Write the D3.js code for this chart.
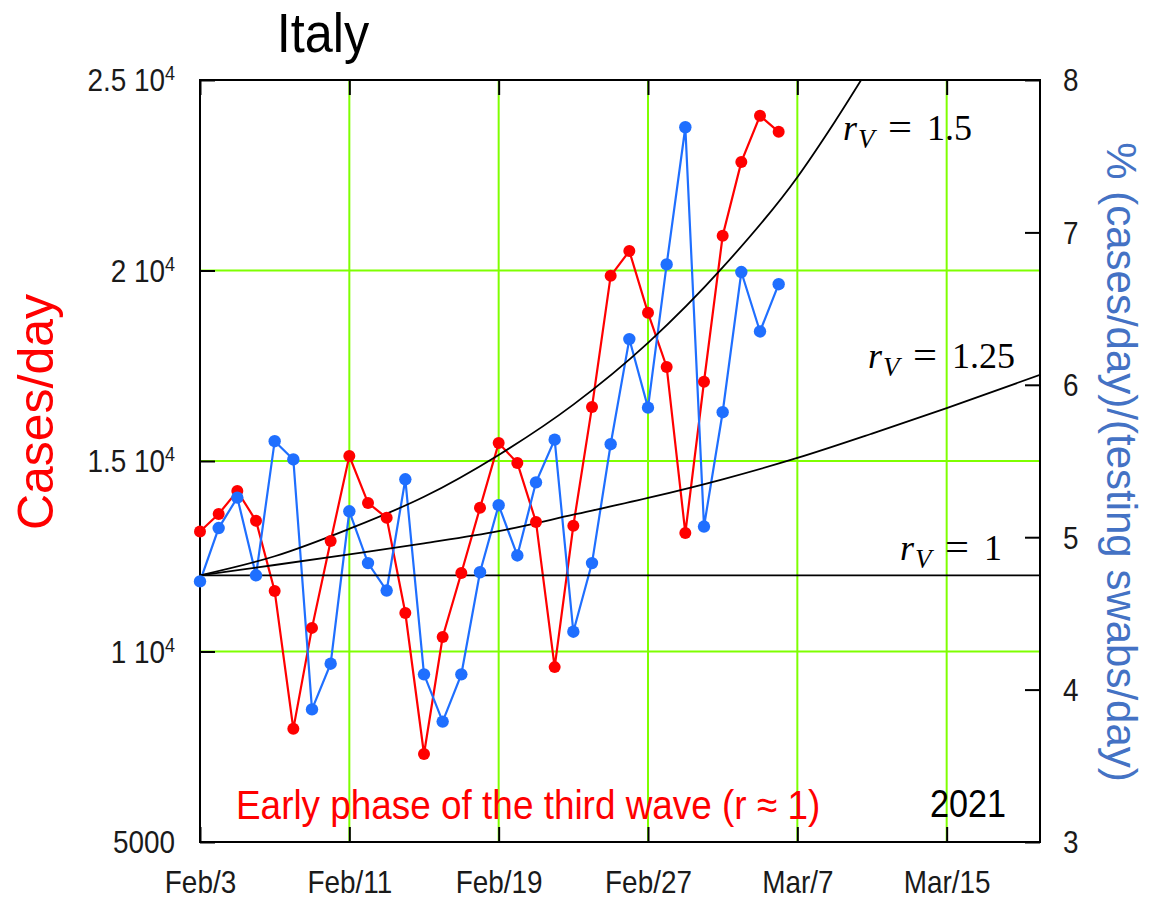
<!DOCTYPE html>
<html>
<head>
<meta charset="utf-8">
<script src="https://cdn.jsdelivr.net/npm/d3@7"></script>
<style>
  html, body { margin: 0; padding: 0; background: #fff; }
  svg { display: block; font-family: "Liberation Sans", Arial, sans-serif; }
</style>
</head>
<body>
<svg id="chart" width="1160" height="901"></svg>
<script>
// ---- data ---------------------------------------------------------------
const firstDay = "2021-02-03";          // first observation
const lastAxisDay = "2021-03-20";       // right end of the time axis

// Daily new cases, Italy, from Feb 3 to Mar 6 2021
const cases = [13150, 13610, 14210, 13430, 11590, 7970, 10620, 12900, 15130, 13900,
               13510, 11010, 7310, 10380, 12060, 13770, 15470, 14950, 13400, 9590,
               13300, 16420, 19860, 20510, 18890, 17470, 13110, 17080, 20910, 22850,
               24060, 23640];

// Positivity: % of cases per testing swabs, same days
const positivity = [4.71, 5.06, 5.26, 4.75, 5.63, 5.51, 3.87, 4.17, 5.17, 4.83,
                    4.65, 5.38, 4.10, 3.79, 4.10, 4.77, 5.21, 4.88, 5.36, 5.64,
                    4.38, 4.83, 5.61, 6.30, 5.85, 6.79, 7.69, 5.07, 5.82, 6.74,
                    6.35, 6.66];

// Reference growth curves (cases/day) for several r_V values, sampled by day offset
const rv150Days   = [0, 4, 8, 12, 16, 20, 24, 28, 32, 34, 36];
const rv150Values = [12000, 12500, 13220, 14060, 15160, 16480, 18100, 20080, 22450, 23900, 25460];
const rv125Days   = [0, 4, 8, 12, 16, 20, 24, 28, 32, 36, 40, 45];
const rv125Values = [12000, 12270, 12550, 12840, 13160, 13590, 14030, 14520, 15080, 15720, 16390, 17260];
const rv100Days   = [0, 45];
const rv100Values = [12000, 12000];

// Axis ticks
const xTickDays = ["2021-02-03", "2021-02-11", "2021-02-19", "2021-02-27", "2021-03-07", "2021-03-15"];
const xGridDays = ["2021-02-11", "2021-02-19", "2021-02-27", "2021-03-07", "2021-03-15"];
const leftTicks = [5000, 10000, 15000, 20000, 25000];
const leftTickMantissa = ["5000", "1 10", "1.5 10", "2 10", "2.5 10"];
const leftTickExponent = ["", "4", "4", "4", "4"];
const leftGrid = [10000, 15000, 20000];
const rightTicks = [3, 4, 5, 6, 7, 8];

// ---- layout -------------------------------------------------------------
const L = 200, R = 1040, T = 80, B = 842;
const SX = 0.9;   // horizontal squeeze of the sans-serif labels
const svg = d3.select("#chart");
const parse = d3.utcParse("%Y-%m-%d");
const day0 = parse(firstDay);

const x = d3.scaleUtc().domain([day0, parse(lastAxisDay)]).range([L, R]);
const yL = d3.scaleLinear().domain([5000, 25000]).range([B, T]);
const yR = d3.scaleLinear().domain([3, 8]).range([B, T]);
const dayAt = k => d3.utcDay.offset(day0, k);

const RED = "#ff0000", BLUE = "#1f6fff", GRID = "#7fff00";

// ---- grid -------------------------------------------------------------
const grid = svg.append("g");
grid.selectAll("line.h").data(leftGrid).join("line")
  .attr("x1", L).attr("x2", R)
  .attr("y1", d => yL(d)).attr("y2", d => yL(d))
  .attr("stroke", GRID).attr("stroke-width", 2);
grid.selectAll("line.v").data(xGridDays.map(parse)).join("line")
  .attr("x1", d => x(d)).attr("x2", d => x(d))
  .attr("y1", T).attr("y2", B)
  .attr("stroke", GRID).attr("stroke-width", 2);

// ---- axes (inward ticks) ------------------------------------------------
function styleAxis(g) {
  g.select(".domain").remove();
  g.selectAll(".tick line").attr("stroke", "#000").attr("stroke-width", 2);
  g.selectAll(".tick text").attr("fill", "#1a1a1a").style("font-size", "31px")
    .style("font-family", '"Liberation Sans", Arial, sans-serif');
}

const leftAxis = svg.append("g").attr("transform", `translate(${L},0)`)
  .call(d3.axisLeft(yL).tickValues(leftTicks).tickSizeInner(-15).tickSizeOuter(0).tickPadding(0));
styleAxis(leftAxis);
leftAxis.selectAll(".tick text").each(function(d, i) {
  const t = d3.select(this);
  t.text(null).attr("x", -25 / SX).attr("dy", "0.35em")
    .attr("text-anchor", "end").attr("transform", `scale(${SX},1)`);
  t.append("tspan").text(leftTickMantissa[i]);
  if (leftTickExponent[i]) {
    t.append("tspan").attr("dy", "-0.55em").style("font-size", "20px").text(leftTickExponent[i]);
  }
});

const bottomAxis = svg.append("g").attr("transform", `translate(0,${B})`)
  .call(d3.axisBottom(x).tickValues(xTickDays.map(parse)).tickSizeInner(-15).tickSizeOuter(0)
        .tickFormat(d3.utcFormat("%b/%-d")));
styleAxis(bottomAxis);
bottomAxis.selectAll(".tick text").attr("y", 51).attr("dy", null)
  .attr("transform", `scale(${SX},1)`);

const topAxis = svg.append("g").attr("transform", `translate(0,${T})`)
  .call(d3.axisTop(x).tickValues(xTickDays.map(parse)).tickSizeInner(-15).tickSizeOuter(0).tickFormat(""));
styleAxis(topAxis);

const rightAxis = svg.append("g").attr("transform", `translate(${R},0)`)
  .call(d3.axisRight(yR).tickValues(rightTicks).tickSizeInner(-15).tickSizeOuter(0).tickPadding(0)
        .tickFormat(d3.format("d")));
styleAxis(rightAxis);
rightAxis.selectAll(".tick text").attr("x", 23 / SX).attr("dy", "0.35em")
  .attr("transform", `scale(${SX},1)`);

// ---- plot frame ---------------------------------------------------------
svg.append("rect").attr("x", L).attr("y", T).attr("width", R - L).attr("height", B - T)
  .attr("fill", "none").attr("stroke", "#000").attr("stroke-width", 2);

// ---- data lines ---------------------------------------------------------
svg.append("clipPath").attr("id", "plotClip")
  .append("rect").attr("x", L).attr("y", T).attr("width", R - L).attr("height", B - T);

const caseLine = d3.line().x((d, i) => x(dayAt(i))).y(d => yL(d));
const posLine = d3.line().x((d, i) => x(dayAt(i))).y(d => yR(d));

svg.append("path").datum(cases).attr("d", caseLine)
  .attr("fill", "none").attr("stroke", RED).attr("stroke-width", 2.2);
svg.append("path").datum(positivity).attr("d", posLine)
  .attr("fill", "none").attr("stroke", BLUE).attr("stroke-width", 2.2);

// reference curves
const curves = [
  { days: rv100Days, values: rv100Values },
  { days: rv125Days, values: rv125Values },
  { days: rv150Days, values: rv150Values }
];
const curveGen = d3.line().curve(d3.curveMonotoneX)
  .x(d => x(dayAt(d[0]))).y(d => yL(d[1]));
svg.append("g").attr("clip-path", "url(#plotClip)")
  .selectAll("path").data(curves).join("path")
  .attr("d", c => curveGen(c.days.map((k, i) => [k, c.values[i]])))
  .attr("fill", "none").attr("stroke", "#000").attr("stroke-width", 1.8);

// points
svg.append("g").selectAll("circle").data(cases).join("circle")
  .attr("cx", (d, i) => x(dayAt(i))).attr("cy", d => yL(d)).attr("r", 6).attr("fill", RED);
svg.append("g").selectAll("circle").data(positivity).join("circle")
  .attr("cx", (d, i) => x(dayAt(i))).attr("cy", d => yR(d)).attr("r", 6.2).attr("fill", BLUE);

// ---- labels -------------------------------------------------------------
function squeezed(xp, yp, txt, size, fill, anchor) {
  svg.append("g").attr("transform", `translate(${xp},${yp}) scale(${SX},1)`)
    .append("text").attr("text-anchor", anchor || "start")
    .style("font-size", size + "px").attr("fill", fill).text(txt);
}

squeezed(323, 52, "Italy", 56, "#000", "middle");
squeezed(236, 819, "Early phase of the third wave (r \u2248 1)", 41, RED, "start");
squeezed(930, 817, "2021", 38, "#000", "start");

svg.append("text")
  .attr("transform", "translate(53,412) rotate(-90)")
  .attr("text-anchor", "middle").style("font-size", "50px").attr("fill", RED)
  .text("Cases/day");

svg.append("text")
  .attr("transform", "translate(1107,462) rotate(90)")
  .attr("text-anchor", "middle").style("font-size", "42px").attr("fill", "#4472c4")
  .text("% (cases/day)/(testing swabs/day)");

// r_V annotations
function rvLabel(x0, y0, num) {
  const g = svg.append("g").attr("transform", `translate(${x0},${y0})`)
    .style("font-family", '"Liberation Serif", "DejaVu Serif", serif').attr("fill", "#000");
  g.append("text").style("font-size", "36px").style("font-style", "italic").text("r");
  g.append("text").attr("x", 15).attr("y", 8).style("font-size", "27px").style("font-style", "italic").text("V");
  g.append("text").attr("x", 45).attr("textLength", 24).attr("lengthAdjust", "spacingAndGlyphs")
    .style("font-size", "38px").text("=");
  g.append("text").attr("x", 84).style("font-size", "36px").text(num);
}
rvLabel(843, 140, "1.5");
rvLabel(868, 368, "1.25");
rvLabel(900, 560, "1");
</script>
</body>
</html>
